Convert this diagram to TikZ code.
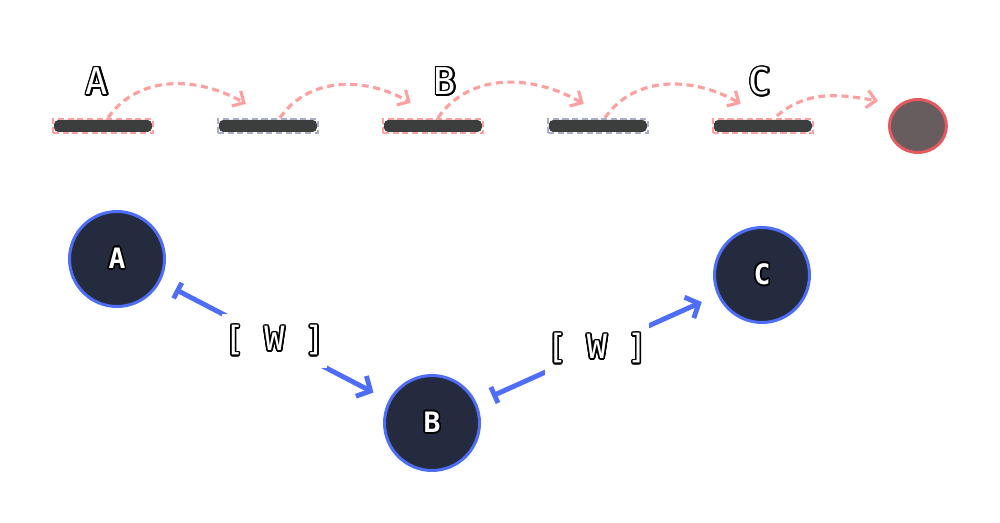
\documentclass[tikz,border=0pt]{standalone}
\usepackage{fontspec}
\setmonofont{DejaVu Sans Mono}
\usepackage{contour}
\usetikzlibrary{arrows.meta,positioning,shapes.geometric,calc}
\contourlength{0.9pt}
\newcommand{\outl}[1]{\contour{black}{#1}}

\definecolor{hoppink}{HTML}{FFA0A0}
\definecolor{slate}{HTML}{A9AEC6}
\definecolor{barfill}{HTML}{3C3D3D}
\definecolor{sinkfill}{HTML}{675C5E}
\definecolor{sinkred}{HTML}{E35B60}
\definecolor{navy}{HTML}{252B3F}
\definecolor{linkblue}{HTML}{4F6EF7}

\begin{document}
\begin{tikzpicture}[
  x=0.02cm, y=-0.02cm,
  node distance=1.254cm,
  bar/.style={rectangle, draw=#1, dash pattern=on 3.5pt off 2pt, line width=1.3pt, minimum width=2cm, minimum height=0.28cm, inner sep=0pt,
    path picture={\fill[barfill, rounded corners=2.5pt] ([shift={(1,1)}]path picture bounding box.north west) rectangle ([shift={(-1,-1)}]path picture bounding box.south east);}},
  sink/.style={ellipse, draw=sinkred, fill=sinkfill, line width=1.7pt, minimum width=1.14cm, minimum height=1.06cm, inner sep=0pt},
  letter/.style={text=white, font=\ttfamily\fontsize{21}{21}\selectfont},
  hop/.style={draw=hoppink, line width=1.8pt, dash pattern=on 4pt off 2.6pt, -{Straight Barb[length=5pt,width=10pt]}},
  state/.style={circle, draw=linkblue, fill=navy, line width=1.7pt, minimum size=1.9cm, inner sep=0pt, text=white, font=\ttfamily\bfseries\fontsize{16}{16}\selectfont},
  link/.style={draw=linkblue, line width=2.8pt, line cap=round, {Bar[width=10pt]}-{Straight Barb[length=6pt,width=13pt]}, shorten <=0.34cm, shorten >=0.34cm},
  tag/.style={fill=white, inner sep=0pt, minimum width=2.1cm, minimum height=1.1cm, text=white, font=\ttfamily\fontsize{19}{20}\selectfont}
]
\useasboundingbox (0,0) rectangle (1000,523);

% top row
\node[bar=hoppink] (b1) at (103,126) {};
\node[bar=slate, right=of b1] (b2) {};
\node[bar=hoppink, right=of b2] (b3) {};
\node[bar=slate, right=of b3] (b4) {};
\node[bar=hoppink, right=of b4] (b5) {};
\node[sink, right=1.48cm of b5] (stop) {};

\node[letter] (la) at (97,82) {\outl{A}};
\node[letter] (lb) at (445,82) {\outl{B}};
\node[letter] (lc) at (760,82) {\outl{C}};

\path[hop] ($(b1.north)+(5,0)$) to[out=55,in=150] ($(b2.north west)+(29,-14)$);
\path[hop] ($(b2.north)+(12,0)$) to[out=55,in=150] ($(b3.north west)+(29,-15)$);
\path[hop] ($(b3.north)+(5,0)$) to[out=55,in=150] ($(b4.north west)+(37,-14)$);
\path[hop] ($(b4.north)+(7,0)$) to[out=55,in=150] ($(b5.north west)+(29,-14)$);
\path[hop] ($(b5.north)+(14,-2)$) to[out=40,in=170] ($(stop.west)+(-10,-25)$);

% bottom row
\node[state] (na) at (117,259) {\outl{A}};
\node[state] (nb) at (432,423) {\outl{B}};
\node[state] (nc) at (762,275) {\outl{C}};

\path[link] (na) -- node[tag]{\outl{[ W ]}} (nb);
\path[link] (nb) -- node[tag]{\outl{[ W ]}} (nc);

\end{tikzpicture}
\end{document}
